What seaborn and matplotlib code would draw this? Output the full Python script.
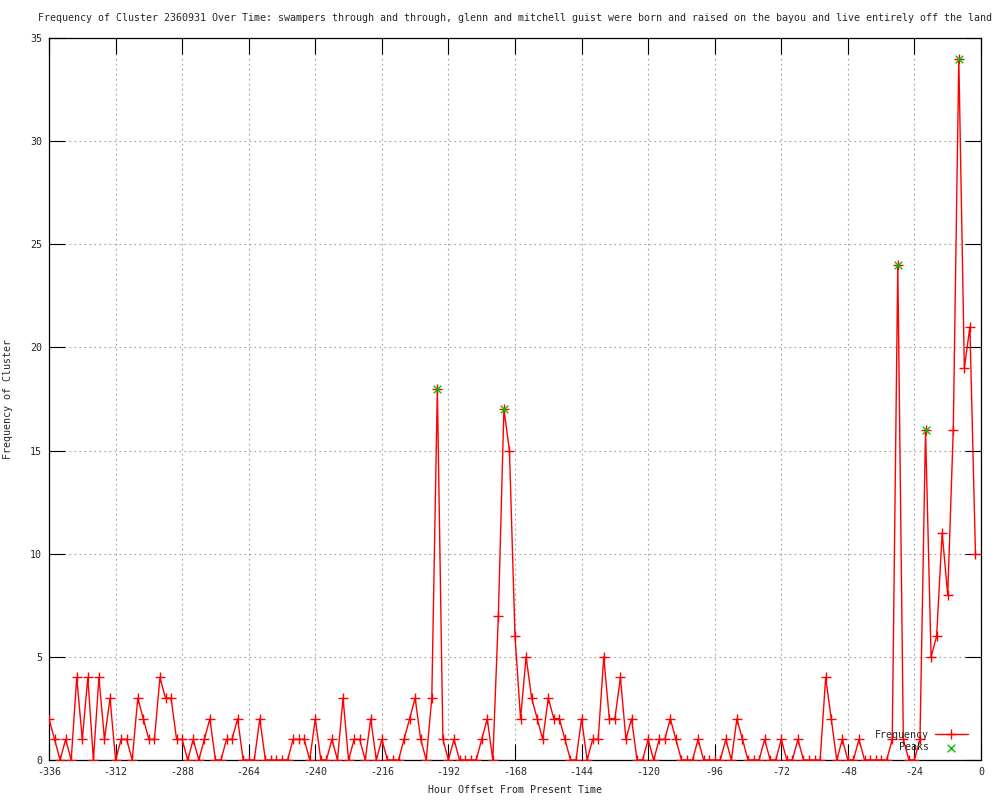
import numpy as np
import pandas as pd
import matplotlib
matplotlib.use('Agg')
import matplotlib.pyplot as plt
import seaborn as sns

# Data (one point every 2 hours, -336 .. -2)
freq = [2, 1, 0, 1, 0, 4, 1, 4, 0, 4, 1, 3, 0, 1, 1, 0, 3, 2, 1, 1,
        4, 3, 3, 1, 1, 0, 1, 0, 1, 2, 0, 0, 1, 1, 2, 0, 0, 0, 2, 0,
        0, 0, 0, 0, 1, 1, 1, 0, 2, 0, 0, 1, 0, 3, 0, 1, 1, 0, 2, 0,
        1, 0, 0, 0, 1, 2, 3, 1, 0, 3, 18, 1, 0, 1, 0, 0, 0, 0, 1, 2,
        0, 7, 17, 15, 6, 2, 5, 3, 2, 1, 3, 2, 2, 1, 0, 0, 2, 0, 1, 1,
        5, 2, 2, 4, 1, 2, 0, 0, 1, 0, 1, 1, 2, 1, 0, 0, 0, 1, 0, 0,
        0, 0, 1, 0, 2, 1, 0, 0, 0, 1, 0, 0, 1, 0, 0, 1, 0, 0, 0, 0,
        4, 2, 0, 1, 0, 0, 1, 0, 0, 0, 0, 0, 1, 24, 1, 0, 0, 1, 16, 5,
        6, 11, 8, 16, 34, 19, 21, 10]
hours = list(range(-336, -336 + 2 * len(freq), 2))

peak_hours = [-196, -172, -30, -20, -8]
peak_values = [18, 17, 24, 16, 34]

x_ticks = list(range(-336, 1, 24))
y_ticks = list(range(0, 36, 5))

TITLE = ('Frequency of Cluster 2360931 Over Time: swampers through and through, '
         'glenn and mitchell guist were born and raised on the bayou and live '
         'entirely off the land')

# Style (gnuplot look)
sns.set_theme(style='white')
plt.rcParams['font.family'] = ['DejaVu Sans Mono']
FS = 7.2

df = pd.DataFrame({'hour': hours, 'freq': freq})
peaks = pd.DataFrame({'hour': peak_hours, 'freq': peak_values})

fig = plt.figure(figsize=(10, 8), dpi=100)
ax = fig.add_axes([0.049, 0.05, 0.932, 0.9025])

sns.lineplot(data=df, x='hour', y='freq', color='#ff0000', linewidth=1.0,
             marker='+', markersize=7, markeredgewidth=1.0,
             markeredgecolor='#ff0000', label='Frequency', ax=ax, zorder=3)
sns.scatterplot(data=peaks, x='hour', y='freq', color='#00c000', marker='x',
                s=30, linewidth=1.0, label='Peaks', ax=ax, zorder=4)

ax.set_xlim(-336, 0)
ax.set_ylim(0, 35)
ax.set_xticks(x_ticks)
ax.set_yticks(y_ticks)
ax.set_xticklabels([str(t) for t in x_ticks], fontsize=FS)
ax.set_yticklabels([str(t) for t in y_ticks], fontsize=FS)
ax.tick_params(direction='in', length=11.5, width=0.8, color='black',
               top=True, right=True, bottom=True, left=True, pad=5)
ax.grid(True, color='#a0a0a0', linestyle=(0, (1.5, 3)), linewidth=0.8)
for s in ax.spines.values():
    s.set_color('black')
    s.set_linewidth(0.9)

ax.set_xlabel('Hour Offset From Present Time', fontsize=FS, labelpad=6)
ax.set_ylabel('Frequency of Cluster', fontsize=FS, labelpad=12)
ax.set_title(TITLE, fontsize=FS, pad=12)

ax.legend(loc='lower right', bbox_to_anchor=(0.99, 0.005), frameon=False,
          markerfirst=False, fontsize=FS, handlelength=3.3, labelspacing=0.25,
          handletextpad=0.6, borderaxespad=0)

fig.savefig('out.png', dpi=100)
